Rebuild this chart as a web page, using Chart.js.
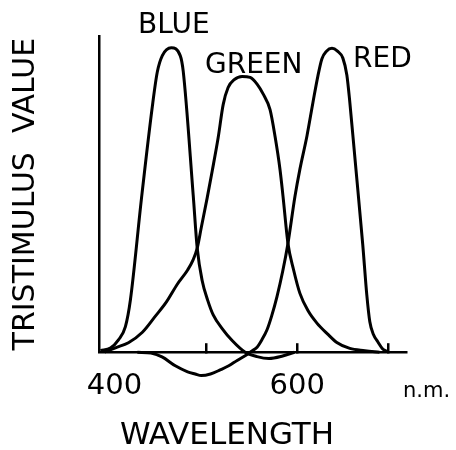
<!DOCTYPE html>
<html>
<head>
<meta charset="utf-8">
<title>Tristimulus values</title>
<script src="https://cdn.jsdelivr.net/npm/chart.js@4.4.0/dist/chart.umd.min.js"></script>
<style>
  html, body { margin: 0; padding: 0; background: #fff; }
  canvas { display: block; }
</style>
</head>
<body>
<canvas id="chart" width="456" height="450"></canvas>
<script>
// Values (wavelength in nm, tristimulus value, peak ~ 1)
const blueNm  = [384.6, 395.5, 404.3, 411.9, 417.4, 429.4, 441.4, 446.8, 452.3, 462.1, 471.9, 475.2, 486.1, 490.5, 496, 502, 508, 518, 528.7, 543, 556, 569, 584, 597];
const blueVal = [0.005, 0.013, 0.039, 0.081, 0.166, 0.484, 0.778, 0.886, 0.938, 0.963, 0.938, 0.888, 0.497, 0.329, 0.225, 0.164, 0.118, 0.074, 0.037, 0, -0.014, -0.02, -0.012, 0];

const greenNm  = [389, 401, 415.2, 430.5, 444.7, 457, 468.7, 480, 486, 490.5, 495, 501.4, 506.9, 513.4, 518.9, 524.3, 531, 539.6, 548.4, 556, 562.6, 570.2, 575.7, 581.1, 584.4, 589.8, 596, 602.9, 612, 621.5, 633, 643.3, 657.5, 674, 690];
const greenVal = [0, 0.014, 0.03, 0.063, 0.114, 0.16, 0.215, 0.26, 0.292, 0.329, 0.395, 0.488, 0.573, 0.678, 0.783, 0.837, 0.862, 0.872, 0.869, 0.848, 0.817, 0.767, 0.682, 0.578, 0.493, 0.344, 0.26, 0.186, 0.13, 0.092, 0.058, 0.031, 0.012, 0.005, 0];

const redNm  = [425, 440, 452, 466.5, 480, 488.3, 495, 505, 515.6, 525, 534.2, 545.1, 550, 556, 561, 566.9, 572, 577.8, 584, 589.8, 597.5, 602.9, 610.6, 617.1, 622.6, 627, 632, 638, 644, 649.9, 654.3, 657.5, 660.8, 664.1, 671.7, 676.1, 679.4, 683.5, 688.1, 693, 698];
const redVal = [0, -0.003, -0.015, -0.043, -0.062, -0.069, -0.074, -0.069, -0.056, -0.043, -0.026, -0.007, 0.003, 0.016, 0.038, 0.071, 0.115, 0.176, 0.255, 0.344, 0.493, 0.579, 0.684, 0.789, 0.874, 0.928, 0.952, 0.961, 0.952, 0.93, 0.876, 0.791, 0.687, 0.582, 0.339, 0.181, 0.096, 0.055, 0.033, 0.012, 0.002];

// Tick marks along the baseline; only some of them carry a label
const tickValues = [400, 500, 600, 700];
const tickLabels = ["400", "", "600", ""];

const FONT = "DejaVu Sans";
const toPoints = (xs, ys) => xs.map((x, i) => ({ x: x, y: ys[i] }));

function curve(label, xs, ys) {
  return {
    label: label,
    data: toPoints(xs, ys),
    showLine: true,
    borderColor: "#000",
    borderWidth: 3,
    pointRadius: 0,
    cubicInterpolationMode: "monotone",
    clip: false
  };
}

// Curve names, the unit and the x title are lettered straight onto the drawing
const lettering = {
  id: "lettering",
  afterDraw(chart) {
    const ctx = chart.ctx;
    ctx.save();
    ctx.fillStyle = "#000";
    ctx.textBaseline = "alphabetic";
    ctx.textAlign = "left";
    ctx.font = "28px " + FONT;
    ctx.fillText("BLUE", 138, 33);
    ctx.fillText("GREEN", 205, 73);
    ctx.fillText("RED", 353, 67);
    ctx.font = "21px " + FONT;
    ctx.fillText("n.m.", 403, 397);
    ctx.font = "31px " + FONT;
    ctx.textAlign = "center";
    ctx.fillText("WAVELENGTH", 227, 444);
    ctx.restore();
  }
};

new Chart(document.getElementById("chart"), {
  type: "scatter",
  data: {
    datasets: [
      curve("Blue", blueNm, blueVal),
      curve("Green", greenNm, greenVal),
      curve("Red", redNm, redVal)
    ]
  },
  options: {
    responsive: false,
    animation: false,
    devicePixelRatio: 1,
    layout: { padding: { top: 36, right: 50, bottom: 20, left: 0 } },
    plugins: {
      legend: { display: false },
      tooltip: { enabled: false }
    },
    scales: {
      x: {
        type: "linear",
        min: 383,
        max: 719,
        afterBuildTicks: (scale) => {
          scale.ticks = tickValues.map(v => ({ value: v }));
        },
        ticks: {
          autoSkip: false,
          maxRotation: 0,
          padding: 26,
          color: "#000",
          font: { family: FONT, size: 29 },
          callback: (v) => tickLabels[tickValues.indexOf(v)] || ""
        },
        grid: {
          drawOnChartArea: false,
          tickLength: -9,
          lineWidth: 2.5,
          color: (c) => (c.tick && c.tick.value === 400) ? "rgba(0,0,0,0)" : "#000"
        },
        border: { color: "#000", width: 2.5 }
      },
      y: {
        min: 0,
        max: 1,
        ticks: { display: false },
        grid: { display: false, drawTicks: false },
        border: { color: "#000", width: 2.5 },
        title: {
          display: true,
          text: "TRISTIMULUS  VALUE",
          color: "#000",
          font: { family: FONT, size: 30 },
          padding: { top: 8, bottom: 55 }
        }
      }
    }
  },
  plugins: [lettering]
});
</script>
</body>
</html>
